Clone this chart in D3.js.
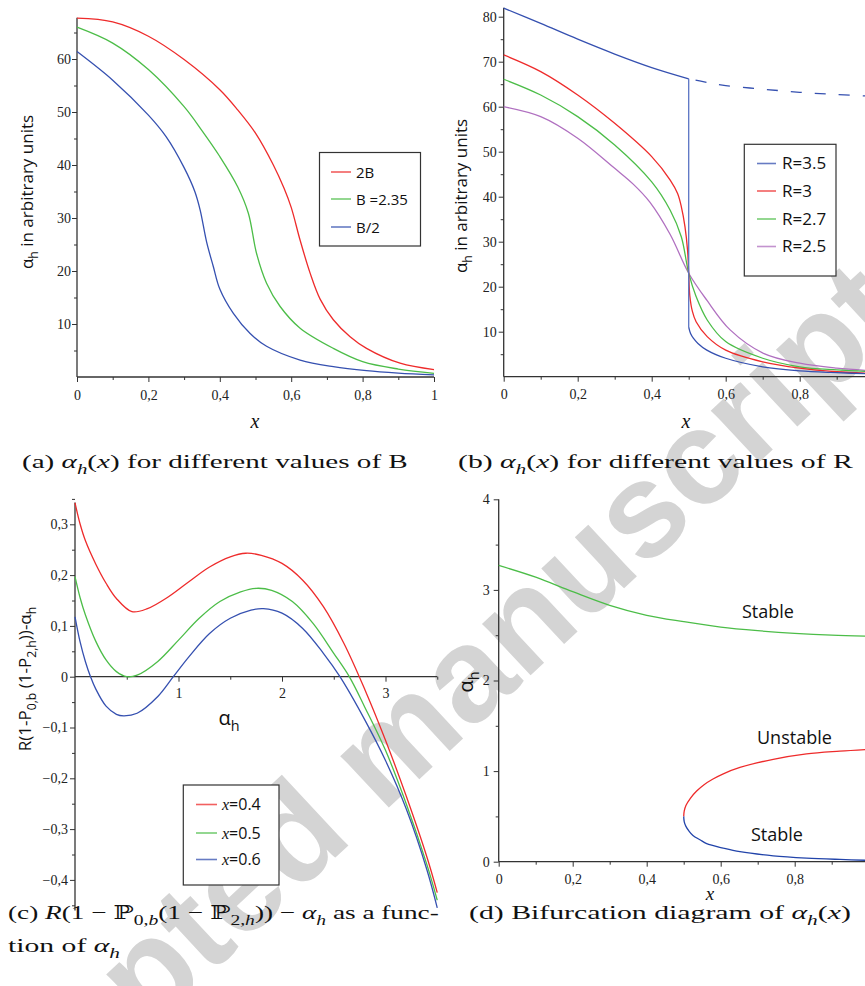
<!DOCTYPE html>
<html>
<head>
<meta charset="utf-8">
<script src="https://cdn.jsdelivr.net/npm/d3@7"></script>
<style>
  body { margin: 0; background: #fff; }
  svg { display: block; }
</style>
</head>
<body>
<div id="chart"></div>
<script>
/* ---------- data: (a) alpha_h(x) for different B ---------- */
const a2B_x   = [0, 0.1, 0.2, 0.3, 0.4, 0.45, 0.5, 0.55, 0.58, 0.6, 0.625, 0.653, 0.681, 0.718, 0.765, 0.811, 0.905, 1]
const a2B_y   = [67.7, 67.0, 64.3, 59.9, 54.2, 50.4, 46, 40, 35.6, 32, 25.8, 19.6, 14.7, 10.8, 7.6, 5.4, 2.6, 1.4]
const aB_x    = [0, 0.1, 0.2, 0.3, 0.35, 0.4, 0.45, 0.48, 0.503, 0.531, 0.569, 0.625, 0.718, 0.8, 0.9, 1]
const aB_y    = [66, 63, 58, 51, 46.5, 41.6, 35.9, 30.9, 23.3, 17.7, 13.3, 9.2, 5.4, 2.9, 1.5, 0.7]
const aBh_x   = [0, 0.1, 0.2, 0.25, 0.3, 0.33, 0.345, 0.363, 0.382, 0.4, 0.438, 0.485, 0.531, 0.625, 0.718, 0.811, 0.9, 1]
const aBh_y   = [61.4, 56, 49.4, 45.3, 39.5, 35, 31.5, 25.5, 20.8, 16.6, 12, 8.2, 5.8, 3.2, 1.95, 1.2, 0.75, 0.4]
const aLegend = ['2B', 'B =2.35', 'B/2']

/* ---------- data: (b) alpha_h(x) for different R ---------- */
const bR35up_x   = [0, 0.1, 0.2, 0.3, 0.4, 0.5]
const bR35up_y   = [81.9, 78.5, 75, 71.7, 68.7, 66.2]
const bR35dash_x = [0.5, 0.55, 0.6, 0.7, 0.8, 0.9, 1]
const bR35dash_y = [66.2, 65.4, 64.7, 63.9, 63.2, 62.7, 62.3]
const bR35low_x  = [0.5, 0.505, 0.513, 0.525, 0.549, 0.6, 0.7, 0.8, 0.9, 1]
const bR35low_y  = [11, 9.6, 8.5, 7.4, 5.9, 4.1, 2.2, 1.3, 0.9, 0.6]
const bR3_x   = [0, 0.1, 0.2, 0.3, 0.4, 0.45, 0.47, 0.48, 0.49, 0.497, 0.5, 0.503, 0.51, 0.52, 0.55, 0.6, 0.7, 0.8, 0.9, 1]
const bR3_y   = [71.5, 67.8, 62.6, 56.3, 48.9, 43.7, 40.7, 37.8, 33.3, 28, 23, 18, 14.5, 12.2, 8.9, 5.9, 3.3, 1.9, 1.1, 0.7]
const bR27_x  = [0, 0.1, 0.2, 0.3, 0.4, 0.45, 0.48, 0.5, 0.52, 0.55, 0.6, 0.7, 0.8, 0.9, 1]
const bR27_y  = [66.1, 62.6, 57.8, 51.5, 43.3, 37, 31.1, 23, 17.8, 12.6, 7.8, 4.1, 2.2, 1.5, 1.1]
const bR25_x  = [0, 0.1, 0.2, 0.3, 0.35, 0.395, 0.45, 0.5, 0.549, 0.612, 0.702, 0.8, 0.9, 1]
const bR25_y  = [60, 57.8, 53, 46.3, 42.8, 38.8, 31.6, 23, 17, 10.4, 5.2, 3.0, 1.9, 1.3]
const bLegend = ['R=3.5', 'R=3', 'R=2.7', 'R=2.5']

/* ---------- data: (c) R(1-P0b(1-P2h))-alpha_h vs alpha_h ---------- */
const cX04_a = [0, 0.05, 0.1, 0.2, 0.3, 0.4, 0.55, 0.7, 0.9, 1.1, 1.3, 1.5, 1.65, 1.8, 2.0, 2.2, 2.4, 2.6, 2.8, 3.0, 3.2, 3.4, 3.5]
const cX04_y = [0.342, 0.3, 0.268, 0.222, 0.184, 0.154, 0.128, 0.134, 0.157, 0.187, 0.216, 0.236, 0.243, 0.239, 0.223, 0.19, 0.138, 0.065, -0.025, -0.125, -0.235, -0.355, -0.425]
const cX05_a = [0, 0.05, 0.1, 0.2, 0.3, 0.4, 0.5, 0.6, 0.8, 1.0, 1.2, 1.4, 1.6, 1.75, 1.9, 2.1, 2.3, 2.5, 2.65, 2.8, 3.0, 3.2, 3.4, 3.5]
const cX05_y = [0.197, 0.155, 0.122, 0.07, 0.033, 0.01, 0.0, 0.003, 0.03, 0.072, 0.115, 0.148, 0.167, 0.174, 0.17, 0.148, 0.105, 0.046, 0, -0.06, -0.145, -0.25, -0.37, -0.44]
const cX06_a = [0, 0.05, 0.1, 0.15, 0.2, 0.3, 0.4, 0.47, 0.6, 0.8, 0.95, 1.1, 1.3, 1.5, 1.7, 1.82, 2.0, 2.2, 2.4, 2.56, 2.8, 3.0, 3.2, 3.4, 3.5]
const cX06_y = [0.118, 0.068, 0.03, 0, -0.024, -0.058, -0.074, -0.077, -0.072, -0.039, 0, 0.039, 0.085, 0.115, 0.131, 0.134, 0.125, 0.095, 0.046, 0, -0.085, -0.165, -0.26, -0.38, -0.455]
const cLegend = ['0.4', '0.5', '0.6']

/* ---------- data: (d) bifurcation diagram ---------- */
const dHigh_x = [0, 0.1, 0.2, 0.3, 0.4, 0.5, 0.6, 0.7, 0.8, 0.9, 1]
const dHigh_y = [3.27, 3.14, 2.98, 2.83, 2.72, 2.65, 2.59, 2.55, 2.52, 2.5, 2.49]
const dUnst_x = [0.5, 0.5015, 0.506, 0.518, 0.535, 0.555, 0.578, 0.607, 0.652, 0.742, 0.832, 0.922, 1.0]
const dUnst_y = [0.5, 0.56, 0.62, 0.7, 0.78, 0.85, 0.91, 0.97, 1.04, 1.13, 1.19, 1.22, 1.24]
const dLow_x  = [0.5, 0.5015, 0.506, 0.514, 0.525, 0.545, 0.562, 0.607, 0.652, 0.742, 0.832, 0.922, 1.0]
const dLow_y  = [0.5, 0.44, 0.39, 0.34, 0.29, 0.24, 0.2, 0.15, 0.11, 0.065, 0.04, 0.025, 0.015]

/* ---------- tick labels ---------- */
const xTicksA = [0, 0.2, 0.4, 0.6, 0.8, 1]
const yTicksA = [10, 20, 30, 40, 50, 60]
const xTicksB = [0, 0.2, 0.4, 0.6, 0.8]
const yTicksB = [10, 20, 30, 40, 50, 60, 70, 80]
const xTicksC = [1, 2, 3]
const yTicksC = [-0.4, -0.3, -0.2, -0.1, 0, 0.1, 0.2, 0.3]
const xTicksD = [0, 0.2, 0.4, 0.6, 0.8]
const yTicksD = [0, 1, 2, 3, 4]

const RED = '#ee2b2b', GREEN = '#4cbd48', BLUE = '#3550b0', PURPLE = '#b070c0'
const SANS = '"Open Sans", "Noto Sans", sans-serif'
const SERIF = '"Liberation Serif", "Times New Roman", Times, "DejaVu Serif", serif'

const svg = d3.select('#chart').append('svg')
  .attr('width', 865).attr('height', 986)

svg.append('rect').attr('width', 865).attr('height', 986).attr('fill', '#fff')

/* watermark */
svg.append('text')
  .attr('transform', 'translate(412,786) rotate(-43)')
  .attr('text-anchor', 'middle')
  .style('font-family', '"Liberation Sans", Arial, sans-serif')
  .style('font-weight', 'bold')
  .style('font-size', '134px')
  .attr('fill', '#d4d4d4')
  .text('Accepted manuscript')

let comma = d => d3.format('')(d).replace('.', ',')

/* text with italic / subscript parts */
function rich(text, parts, size) {
  let down = false
  parts.forEach(p => {
    let t = p[0], st = p[1] || ''
    let ts = text.append('tspan').text(t)
    let sub = st.includes('s')
    if (st.includes('i')) ts.attr('font-style', 'italic')
    if (st.includes('r')) ts.style('font-family', SERIF)
    if (sub && !down) { ts.attr('dy', size * 0.32); down = true }
    else if (!sub && down) { ts.attr('dy', -size * 0.32); down = false }
    if (sub) ts.attr('font-size', size * 0.72)
  })
  return text
}

function axes(g, x, y, o) {
  let xa = d3.axisBottom(x).tickValues(o.xTicks).tickFormat(comma)
    .tickSize(5).tickPadding(o.xPad).tickSizeOuter(0)
  let gx = g.append('g').attr('transform', `translate(0,${y(o.xAt)})`).call(xa)
  gx.select('.domain').attr('d', `M${x(o.xDom[0])},0H${x(o.xDom[1])}`)
  g.append('g').attr('transform', `translate(0,${y(o.xAt)})`)
    .call(d3.axisBottom(x).tickValues(o.xMinor).tickFormat('').tickSize(3).tickSizeOuter(0))
    .select('.domain').remove()

  let ya = d3.axisLeft(y).tickValues(o.yTicks).tickFormat(comma)
    .tickSize(5).tickPadding(o.yPad).tickSizeOuter(0)
  let gy = g.append('g').attr('transform', `translate(${x(0)},0)`).call(ya)
  gy.select('.domain').attr('d', `M0,${y(o.yDom[0])}V${y(o.yDom[1])}`)
  g.append('g').attr('transform', `translate(${x(0)},0)`)
    .call(d3.axisLeft(y).tickValues(o.yMinor).tickFormat('').tickSize(3).tickSizeOuter(0))
    .select('.domain').remove()

  g.selectAll('.domain').attr('stroke', '#333').attr('stroke-width', 1.3)
  g.selectAll('.tick line').attr('stroke', '#333')
  g.selectAll('.tick text').style('font-family', SERIF).style('font-size', '14px').attr('fill', '#222')
}

function curve(g, x, y, xs, ys, color, c) {
  let line = d3.line().x(d => x(d[0])).y(d => y(d[1])).curve(c || d3.curveCatmullRom.alpha(0.5))
  return g.append('path').datum(d3.zip(xs, ys)).attr('d', line)
    .attr('fill', 'none').attr('stroke', color).attr('stroke-width', 1.3)
}

function legend(g, box, rows) {
  g.append('rect').attr('x', box[0]).attr('y', box[1]).attr('width', box[2]).attr('height', box[3])
    .attr('fill', '#fff').attr('stroke', '#333').attr('stroke-width', 1.2)
  rows.forEach(r => {
    g.append('line').attr('x1', r.x1).attr('x2', r.x2).attr('y1', r.y).attr('y2', r.y)
      .attr('stroke', r.color).attr('stroke-width', 1.6).attr('opacity', 0.75)
    let t = g.append('text').attr('x', r.tx).attr('y', r.y + 5.5)
      .style('font-family', SANS).style('font-size', r.size + 'px').attr('fill', '#111')
    rich(t, r.parts, r.size)
  })
}

function ylabel(g, cx, cy, parts, size) {
  let t = g.append('text').attr('transform', `translate(${cx},${cy}) rotate(-90)`)
    .attr('text-anchor', 'middle').style('font-family', SANS).style('font-size', size + 'px').attr('fill', '#111')
  rich(t, parts, size)
}

function xlabel(g, cx, cy, parts, size, family) {
  let t = g.append('text').attr('x', cx).attr('y', cy).attr('text-anchor', 'middle')
    .style('font-family', family).style('font-size', size + 'px').attr('fill', '#111')
  rich(t, parts, size)
}

function caption(x0, yb, width, parts) {
  let t = svg.append('text').attr('x', 0).attr('y', 0)
    .style('font-family', SERIF).style('font-size', '19px').attr('fill', '#111')
  rich(t, parts, 19)
  let w = t.node().getComputedTextLength()
  t.attr('transform', `translate(${x0},${yb}) scale(${width / w},1)`)
}

/* ================= (a) ================= */
{
  let g = svg.append('g')
  let x = d3.scaleLinear().domain([0, 1]).range([77, 434])
  let y = d3.scaleLinear().domain([0, 60]).range([377, 59])
  axes(g, x, y, {
    xTicks: xTicksA, xMinor: d3.range(0.1, 1, 0.2), xAt: 0, xDom: [0, 1], xPad: 8,
    yTicks: yTicksA, yMinor: d3.range(5, 66, 10), yDom: [0, 67.8], yPad: 1
  })
  curve(g, x, y, a2B_x, a2B_y, RED)
  curve(g, x, y, aB_x, aB_y, GREEN)
  curve(g, x, y, aBh_x, aBh_y, BLUE)
  legend(g, [319.5, 152.5, 101, 93.5], [
    { x1: 331, x2: 351, y: 172, tx: 356, color: RED, size: 15, parts: [[aLegend[0]]] },
    { x1: 331, x2: 351, y: 199, tx: 356, color: GREEN, size: 15, parts: [[aLegend[1]]] },
    { x1: 331, x2: 351, y: 227, tx: 356, color: BLUE, size: 15, parts: [[aLegend[2]]] }
  ])
  ylabel(g, 33, 192, [['α'], ['h', 's'], [' in arbitrary units']], 17)
  xlabel(g, 255, 428, [['x', 'i']], 20, SERIF)
}

/* ================= (b) ================= */
{
  let g = svg.append('g')
  let x = d3.scaleLinear().domain([0, 1]).range([503.7, 873.7])
  let y = d3.scaleLinear().domain([0, 80]).range([376.7, 16.7])
  axes(g, x, y, {
    xTicks: xTicksB, xMinor: d3.range(0.1, 1, 0.2), xAt: 0, xDom: [0, 1], xPad: 7,
    yTicks: yTicksB, yMinor: d3.range(5, 86, 10), yDom: [0, 82], yPad: 2
  })
  curve(g, x, y, bR25_x, bR25_y, PURPLE)
  curve(g, x, y, bR27_x, bR27_y, GREEN)
  curve(g, x, y, bR3_x, bR3_y, RED)
  curve(g, x, y, bR35up_x, bR35up_y, BLUE)
  curve(g, x, y, bR35low_x, bR35low_y, BLUE)
  curve(g, x, y, bR35dash_x, bR35dash_y, BLUE).attr('stroke-dasharray', '0,7,11,6')
  curve(g, x, y, [bR35up_x[5], bR35low_x[0]], [bR35up_y[5], bR35low_y[0]], '#5a74c4', d3.curveLinear)
  legend(g, [744.3, 144.3, 91.7, 131.7], [
    { x1: 757, x2: 776, y: 163.5, tx: 782, color: BLUE, size: 17, parts: [[bLegend[0]]] },
    { x1: 757, x2: 776, y: 191, tx: 782, color: RED, size: 17, parts: [[bLegend[1]]] },
    { x1: 757, x2: 776, y: 219, tx: 782, color: GREEN, size: 17, parts: [[bLegend[2]]] },
    { x1: 757, x2: 776, y: 246.5, tx: 782, color: PURPLE, size: 17, parts: [[bLegend[3]]] }
  ])
  ylabel(g, 467, 196, [['α'], ['h', 's'], [' in arbitrary units']], 17)
  xlabel(g, 686, 428, [['x', 'i']], 20, SERIF)
}

/* ================= (c) ================= */
{
  let g = svg.append('g')
  let x = d3.scaleLinear().domain([0, 3]).range([75, 385.5])
  let y = d3.scaleLinear().domain([0, 0.3]).range([676.7, 524.3])
  axes(g, x, y, {
    xTicks: xTicksC, xMinor: d3.range(0.5, 3.6, 1), xAt: 0, xDom: [0, 3.5], xPad: 6,
    yTicks: yTicksC, yMinor: d3.range(-0.45, 0.36, 0.1), yDom: [-0.46, 0.343], yPad: 2
  })
  curve(g, x, y, cX04_a, cX04_y, RED)
  curve(g, x, y, cX05_a, cX05_y, GREEN)
  curve(g, x, y, cX06_a, cX06_y, BLUE)
  legend(g, [183.3, 785, 95.7, 100], [
    { x1: 196, x2: 217, y: 804.5, tx: 222, color: RED, size: 16, parts: [['x', 'ir'], ['=' + cLegend[0]]] },
    { x1: 196, x2: 217, y: 833, tx: 222, color: GREEN, size: 16, parts: [['x', 'ir'], ['=' + cLegend[1]]] },
    { x1: 196, x2: 217, y: 859.5, tx: 222, color: BLUE, size: 16, parts: [['x', 'ir'], ['=' + cLegend[2]]] }
  ])
  ylabel(g, 31, 679, [['R(1-P'], ['0,b', 's'], [' (1-P'], ['2,h', 's'], ['))-α'], ['h', 's']], 17)
  xlabel(g, 229, 725, [['α'], ['h', 's']], 20, SANS)
}

/* ================= (d) ================= */
{
  let g = svg.append('g')
  let x = d3.scaleLinear().domain([0, 1]).range([498.7, 868.7])
  let y = d3.scaleLinear().domain([0, 4]).range([861.7, 499.3])
  axes(g, x, y, {
    xTicks: xTicksD, xMinor: d3.range(0.1, 1, 0.2), xAt: 0, xDom: [0, 1], xPad: 7,
    yTicks: yTicksD, yMinor: d3.range(0.5, 4, 1), yDom: [0, 4], yPad: 4
  })
  curve(g, x, y, dHigh_x, dHigh_y, GREEN)
  curve(g, x, y, dUnst_x, dUnst_y, RED)
  curve(g, x, y, dLow_x, dLow_y, '#2244aa')
  let lab = (tx, ty, s) => g.append('text').attr('x', tx).attr('y', ty)
    .style('font-family', SANS).style('font-size', '18px').attr('fill', '#111').text(s)
  lab(742, 618, 'Stable')
  lab(757, 744, 'Unstable')
  lab(751, 841, 'Stable')
  ylabel(g, 473, 682, [['α'], ['h', 's']], 20)
  xlabel(g, 710, 900, [['x', 'i']], 19, SERIF)
}

/* ================= captions ================= */
caption(22, 468, 386, [['(a) '], ['α', 'i'], ['h', 'si'], ['('], ['x', 'i'], [') for different values of B']])
caption(458, 468, 395, [['(b) '], ['α', 'i'], ['h', 'si'], ['('], ['x', 'i'], [') for different values of R']])
caption(8, 919, 431, [['(c) '], ['R', 'i'], ['(1 − ℙ'], ['0,', 's'], ['b', 'si'], ['(1 − ℙ'], ['2,', 's'], ['h', 'si'], ['))'],
  [' − '], ['α', 'i'], ['h', 'si'], [' as a func-']])
caption(8, 952, 112, [['tion of '], ['α', 'i'], ['h', 'si']])
caption(469, 919, 382, [['(d) Bifurcation diagram of '], ['α', 'i'], ['h', 'si'], ['('], ['x', 'i'], [')']])
</script>
</body>
</html>
